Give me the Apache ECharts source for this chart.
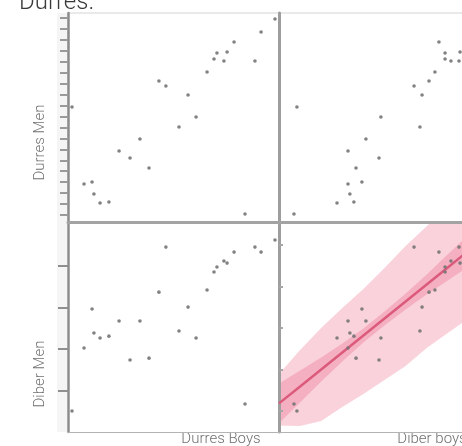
<!DOCTYPE html>
<html><head><meta charset="utf-8">
<script src="https://cdn.jsdelivr.net/npm/echarts@6/dist/echarts.min.js"></script>
<style>html,body{margin:0;padding:0;background:#fff}#c{width:462px;height:446px}</style>
</head><body><div id="c"></div>
<script>
const titleText = 'Durres.';
const xNames = ['Durres Boys', 'Diber boys'];
const yNames = ['Durres Men', 'Diber Men'];

// 25 observations, 4 variables
const durresBoys = [1.9, 7.6, 11.4, 12.3, 15.2, 19.4, 24.2, 29.4, 34.1, 38.4, 43.1, 46.4, 52.6, 56.9, 60.7, 65.9, 69.2, 70.6, 73.9, 75.4, 78.7, 91.5, 88.6, 83.9, 98.1];
const diberBoys  = [8.5, 32.7, 39.3, 33.6, 27.5, 35.5, 32.7, 47.4, 41.2, 36.5, 71.1, 64.0, 66.8, 67.8, 48.3, 73.9, 78.7, 78.7, 81.5, 85.8, 75.8, 91.5, 85.3, 7.1, 97.6];
const durresMen  = [9.86, 2.83, 3.01, 1.92, 1.10, 1.19, 5.84, 5.21, 6.94, 4.29, 12.24, 11.78, 8.04, 10.96, 8.95, 13.06, 14.25, 14.79, 14.06, 14.89, 15.80, 16.71, 14.06, 0.09, 17.90];
const diberMen   = [0.00, 3.04, 4.92, 3.76, 3.52, 3.61, 4.34, 2.46, 4.34, 2.55, 5.73, 7.90, 3.86, 5.01, 3.52, 5.83, 6.70, 6.94, 7.23, 7.13, 7.66, 7.66, 7.90, 0.34, 8.24];

// axis ticks (no tick labels shown)
const durresMenTicks = [0,1,2,3,4,5,6,7,8,9,10,11,12,13,14,15,16,17,18];
const diberMenMajorTicks = [1,3,5,7];
const diberMenMinorTicks = [0,2,4,6,8];

// regression fit and bands (Diber boys vs Diber Men)
const bandX      = [0, 10, 20, 30, 40, 50, 60, 70, 80, 90, 100];
const fitY       = [0.37, 1.18, 2.00, 2.82, 3.64, 4.46, 5.28, 6.10, 6.92, 7.74, 8.56];
const outerUpper = [1.78, 2.94, 4.00, 4.96, 5.88, 6.89, 7.95, 8.91, 9.88, 10.84, 11.81];
const outerLower = [-0.70, -0.72, -0.48, 0.19, 0.82, 1.49, 2.17, 3.04, 3.76, 4.48, 5.20];
const innerUpper = [1.33, 1.95, 2.58, 3.25, 3.98, 4.80, 5.67, 6.58, 7.55, 8.51, 9.48];
const innerLower = [-0.59, 0.41, 1.42, 2.39, 3.30, 4.12, 4.89, 5.62, 6.29, 6.97, 7.64];

const chart = echarts.init(document.getElementById('c'));
const pair = (xs, ys) => xs.map((x, i) => [x, ys[i]]);
const noLab = {show: false};
const noSplit = {show: false};
const xAx = (g, thick) => ({
  gridIndex: g, type: 'value', min: 0, max: 100,
  axisLine: {onZero: false, lineStyle: thick ? {color: '#a3a3a3', width: 3} : {color: '#b4b4b4', width: 1}},
  axisTick: {show: false}, axisLabel: noLab, splitLine: noSplit, z: 3
});
const DM = [-0.64, 18.45], DN = [-1.01, 9.11];
const ptStyle = {color: '#747474', opacity: 0.9};
const sc = (xi, data, z) => ({type: 'scatter', xAxisIndex: xi, yAxisIndex: xi, data, symbolSize: 3.6, itemStyle: ptStyle, z: z || 4, silent: true});

function bandPolygon(api, xs, up, lo, fill) {
  const top = xs.map((x, i) => api.coord([x, up[i]]));
  const bot = xs.map((x, i) => api.coord([x, lo[i]])).reverse();
  return {type: 'polygon', shape: {points: top.concat(bot)}, style: {fill: fill}};
}

chart.setOption({
  animation: false,
  title: {text: titleText, left: 19, top: -9, padding: 0,
    textStyle: {fontFamily: 'Roboto', fontWeight: 300, fontSize: 24, color: '#3a3a3a'}},
  grid: [
    {left: 68, top: 13, width: 211, height: 209, show: true, borderColor: '#d4d4d4', borderWidth: 1, outerBoundsMode: 'none'},
    {left: 279, top: 13, width: 211, height: 209, show: true, borderColor: '#d4d4d4', borderWidth: 1, outerBoundsMode: 'none'},
    {left: 68, top: 222, width: 211, height: 210, outerBoundsMode: 'none'},
    {left: 279, top: 222, width: 211, height: 210, outerBoundsMode: 'none'}
  ],
  xAxis: [xAx(0, true), xAx(1, true), xAx(2, false), xAx(3, false)],
  yAxis: [
    {gridIndex: 0, type: 'value', min: DM[0], max: DM[1], z: 3,
      axisLine: {onZero: false, lineStyle: {color: '#8c8c8c', width: 2.5}},
      axisTick: {show: true, customValues: durresMenTicks, length: 8, lineStyle: {color: '#9a9a9a', width: 2}},
      axisLabel: noLab, splitLine: noSplit},
    {gridIndex: 1, type: 'value', min: DM[0], max: DM[1], z: 3,
      axisLine: {onZero: false, lineStyle: {color: '#9e9e9e', width: 3}},
      axisTick: {show: false}, axisLabel: noLab, splitLine: noSplit},
    {gridIndex: 2, type: 'value', min: DN[0], max: DN[1], z: 3,
      axisLine: {onZero: false, lineStyle: {color: '#8c8c8c', width: 2.5}},
      axisTick: {show: true, customValues: diberMenMajorTicks, length: 10, lineStyle: {color: '#8f8f8f', width: 2}},
      axisLabel: noLab, splitLine: noSplit},
    {gridIndex: 3, type: 'value', min: DN[0], max: DN[1], z: 3,
      axisLine: {onZero: false, lineStyle: {color: '#9e9e9e', width: 3}},
      axisTick: {show: false}, axisLabel: noLab, splitLine: noSplit},
    {gridIndex: 2, type: 'value', min: DN[0], max: DN[1], z: 3,
      axisLine: {show: false, onZero: false},
      axisTick: {show: true, customValues: diberMenMinorTicks, length: 4, lineStyle: {color: '#a6a6a6', width: 2}},
      axisLabel: noLab, splitLine: noSplit}
  ],
  graphic: [
    {type: 'rect', shape: {x: 57, y: 13, width: 10, height: 419}, style: {fill: '#f5f5f5'}, z: -1, silent: true},
    {type: 'text', x: 221, y: 439, style: {text: xNames[0], font: '300 15px Roboto', fill: '#707070', align: 'center', verticalAlign: 'middle', textAlign: 'center', textVerticalAlign: 'middle'}},
    {type: 'text', x: 432, y: 439, style: {text: xNames[1], font: '300 15px Roboto', fill: '#707070', align: 'center', verticalAlign: 'middle', textAlign: 'center', textVerticalAlign: 'middle'}},
    {type: 'text', x: 40, y: 142.5, rotation: Math.PI / 2, style: {text: yNames[0], font: '300 15px Roboto', fill: '#707070', align: 'center', verticalAlign: 'middle', textAlign: 'center', textVerticalAlign: 'middle'}},
    {type: 'text', x: 40, y: 374, rotation: Math.PI / 2, style: {text: yNames[1], font: '300 15px Roboto', fill: '#707070', align: 'center', verticalAlign: 'middle', textAlign: 'center', textVerticalAlign: 'middle'}}
  ],
  series: [
    {type: 'custom', xAxisIndex: 3, yAxisIndex: 3, data: [[0, 0]], clip: true, silent: true, z: 1,
      renderItem: function (params, api) {
        const cs = params.coordSys;
        return {
          type: 'group',
          clipPath: {type: 'rect', shape: {x: cs.x, y: cs.y, width: cs.width, height: cs.height}},
          children: [
            bandPolygon(api, bandX, outerUpper, outerLower, '#fad2db'),
            bandPolygon(api, bandX, innerUpper, innerLower, '#f4b0c1')
          ]
        };
      }},
    {type: 'line', xAxisIndex: 3, yAxisIndex: 3, data: pair(bandX, fitY), symbol: 'none',
      lineStyle: {color: '#dc5a7c', width: 2.5}, silent: true, z: 3},
    sc(0, pair(durresBoys, durresMen)),
    sc(1, pair(diberBoys, durresMen)),
    sc(2, pair(durresBoys, diberMen)),
    sc(3, pair(diberBoys, diberMen), 5)
  ]
});
</script></body></html>
